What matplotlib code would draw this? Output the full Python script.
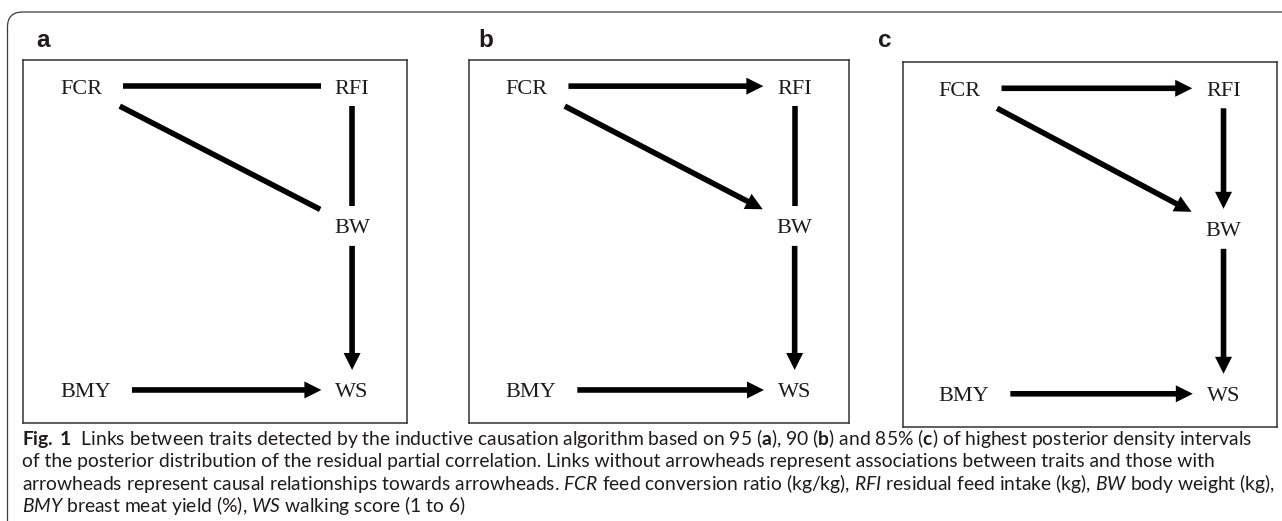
import numpy as np
import matplotlib
matplotlib.use("Agg")
import matplotlib.pyplot as plt
from matplotlib.patches import FancyBboxPatch

plt.rcParams["mathtext.fontset"] = "custom"
plt.rcParams["mathtext.rm"] = "Lato"
plt.rcParams["mathtext.it"] = "Lato:italic"
plt.rcParams["mathtext.bf"] = "Lato:bold"

# nodes, placed as a fraction of the panel width / height
node_names = ["FCR", "RFI", "BW", "BMY", "WS"]
node_fx = [0.151, 0.857, 0.857, 0.163, 0.857]
node_fy = [0.072, 0.072, 0.457, 0.909, 0.909]

# links of each panel: (from, to, has arrowhead)
links_a = [("FCR", "RFI", False), ("FCR", "BW", False), ("RFI", "BW", False),
           ("BW", "WS", True), ("BMY", "WS", True)]
links_b = [("FCR", "RFI", True), ("FCR", "BW", True), ("RFI", "BW", False),
           ("BW", "WS", True), ("BMY", "WS", True)]
links_c = [("FCR", "RFI", True), ("FCR", "BW", True), ("RFI", "BW", True),
           ("BW", "WS", True), ("BMY", "WS", True)]
panel_labels = ["a", "b", "c"]

caption_lines = [
    r"$\mathbf{Fig.\;1}$  Links between traits detected by the inductive causation algorithm based on 95 ($\mathbf{a}$), 90 ($\mathbf{b}$) and 85% ($\mathbf{c}$) of highest posterior density intervals",
    "of the posterior distribution of the residual partial correlation. Links without arrowheads represent associations between traits and those with",
    r"arrowheads represent causal relationships towards arrowheads. $\mathit{FCR}$ feed conversion ratio (kg/kg), $\mathit{RFI}$ residual feed intake (kg), $\mathit{BW}$ body weight (kg),",
    r"$\mathit{BMY}$ breast meat yield (%), $\mathit{WS}$ walking score (1 to 6)",
]

W, H = 1282, 521
fig = plt.figure(figsize=(W / 100, H / 100), dpi=100)
renderer = fig.canvas.get_renderer()

# background axes in pixel units for the frame, the panel letters and the caption
bg = fig.add_axes([0, 0, 1, 1])
bg.set_xlim(0, W)
bg.set_ylim(H, 0)
bg.axis("off")
frame = FancyBboxPatch((7.5, 12), 1330, 530, boxstyle="round,pad=0,rounding_size=15",
                       fc="none", ec="#3c3c3c", lw=0.9)
bg.add_patch(frame)

ink = "#1f1b1c"
boxes = [(23, 60, 384, 363), (469, 60, 380, 363), (903, 62, 374, 365)]
label_x = [36, 478, 878]
all_links = [links_a, links_b, links_c]


def box_shrink(d, hw, hh):
    # distance along unit vector d to leave a box of half sizes hw, hh
    tx = hw / abs(d[0]) if abs(d[0]) > 1e-9 else np.inf
    ty = hh / abs(d[1]) if abs(d[1]) > 1e-9 else np.inf
    return min(tx, ty)


for (x0, y0, w, h), lab, lx, links in zip(boxes, panel_labels, label_x, all_links):
    ax = fig.add_axes([x0 / W, 1 - (y0 + h) / H, w / W, h / H])
    ax.set_xlim(0, w)
    ax.set_ylim(h, 0)
    ax.set_xticks([])
    ax.set_yticks([])
    for s in ax.spines.values():
        s.set_color("#333333")
        s.set_linewidth(1.1)

    pos = {}
    half_w = {}
    for name, fx, fy in zip(node_names, node_fx, node_fy):
        cx, cy = fx * w, fy * h
        t = ax.text(cx, cy + 7.5, name, ha="center", va="baseline",
                    fontsize=16, family="Liberation Serif", color=ink)
        bb = t.get_window_extent(renderer=renderer)
        pos[name] = np.array([cx, cy])
        half_w[name] = bb.width / 2

    for src, dst, arrow in links:
        p1, p2 = pos[src], pos[dst]
        d = (p2 - p1) / np.linalg.norm(p2 - p1)
        s1 = box_shrink(d, half_w[src] + 21, 8 + 12)
        s2 = box_shrink(d, half_w[dst] + 14, 8 + 12)
        a = p1 + d * s1
        b = p2 - d * s2
        if arrow:
            ax.arrow(a[0], a[1], b[0] - a[0], b[1] - a[1], width=5.6,
                     head_width=17, head_length=17, length_includes_head=True,
                     color="black", lw=0)
        else:
            ax.plot([a[0], b[0]], [a[1], b[1]], color="black", lw=4.0,
                    solid_capstyle="butt")

    bg.text(lx, 47, lab, fontsize=17.5, fontweight="bold", family="Liberation Sans",
            color=ink, ha="left", va="baseline")

# caption, size fitted so the first line spans the same width as the reference
cap_y = [445, 467, 490, 512]
size = 12
probe = bg.text(22, cap_y[0], caption_lines[0], fontsize=size, family="Lato")
width = probe.get_window_extent(renderer=renderer).width
probe.remove()
size = size * 1230 / width
for line, y in zip(caption_lines, cap_y):
    bg.text(22, y, line, fontsize=size, family="Lato", color=ink,
            ha="left", va="baseline")

fig.savefig("out.png", dpi=100)
